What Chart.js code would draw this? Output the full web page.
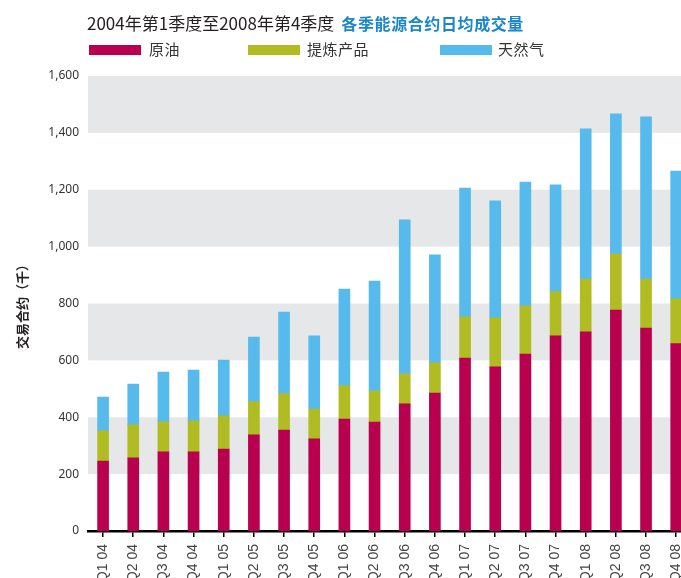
<!DOCTYPE html>
<html>
<head>
<meta charset="utf-8">
<script src="https://cdn.jsdelivr.net/npm/chart.js@4.4.0/dist/chart.umd.min.js"></script>
<style>
  body { margin: 0; background: #fff; }
  #wrap { position: relative; width: 681px; height: 578px; overflow: hidden; }
  #chart { position: absolute; left: 0; top: 0; }
  .txt { position: absolute; font-family: "Noto Sans CJK SC", "Noto Sans", sans-serif; color: #231f20; white-space: nowrap; line-height: 1; }
  #title { left: 87px; top: 14px; font-size: 17px; }
  #title b { color: #1a87c9; font-weight: bold; font-size: 16px; margin-left: 7px; letter-spacing: 0.6px; }
  .key { position: absolute; top: 45px; width: 52px; height: 10px; }
  .lab { top: 41px; font-size: 15px; letter-spacing: 0.5px; color: #333; }
</style>
</head>
<body>
<div id="wrap">
  <canvas id="chart" width="700" height="600"></canvas>
  <div class="txt" id="title">2004年第1季度至2008年第4季度<b>各季能源合约日均成交量</b></div>
  <div class="key" style="left:89px;background:#b8004e"></div>
  <div class="txt lab" style="left:149px">原油</div>
  <div class="key" style="left:248px;background:#b0bc22"></div>
  <div class="txt lab" style="left:307px">提炼产品</div>
  <div class="key" style="left:440px;background:#56bbec"></div>
  <div class="txt lab" style="left:498px">天然气</div>
</div>
<script>
// quarters and daily average volume (thousand contracts)
var quarters = ['Q1 04', 'Q2 04', 'Q3 04', 'Q4 04', 'Q1 05', 'Q2 05', 'Q3 05', 'Q4 05',
    'Q1 06', 'Q2 06', 'Q3 06', 'Q4 06', 'Q1 07', 'Q2 07', 'Q3 07', 'Q4 07',
    'Q1 08', 'Q2 08', 'Q3 08', 'Q4 08'];
var crudeOil = [246, 257, 278, 278, 288, 338, 355, 324, 394, 383, 447, 485, 608, 577, 622, 686, 700, 777, 714, 659];
var refinedProducts = [106, 116, 106, 109, 117, 117, 128, 105, 117, 110, 106, 106, 145, 173, 170, 156, 186, 198, 172, 157];
var naturalGas = [119, 144, 175, 179, 196, 227, 287, 257, 340, 386, 541, 380, 453, 411, 435, 375, 528, 492, 570, 450];
var seriesNames = ['原油', '提炼产品', '天然气'];
var shadedBands = [[200, 400], [600, 800], [1000, 1200], [1400, 1600]];

var fontFamily = '"Noto Sans", "Noto Sans CJK SC", sans-serif';

// grey bands behind the bars
var bandPlugin = {
    id: 'bands',
    beforeDatasetsDraw: function (chart) {
        var ctx = chart.ctx;
        var area = chart.chartArea;
        var y = chart.scales.y;
        ctx.save();
        ctx.fillStyle = '#e6e7e8';
        shadedBands.forEach(function (b) {
            var top = y.getPixelForValue(b[1]);
            var bottom = y.getPixelForValue(b[0]);
            ctx.fillRect(area.left, top, area.right - area.left, bottom - top);
        });
        ctx.restore();
    }
};

new Chart(document.getElementById('chart').getContext('2d'), {
    type: 'bar',
    data: {
        labels: quarters,
        datasets: [
            { label: seriesNames[0], data: crudeOil, backgroundColor: '#b8004e' },
            { label: seriesNames[1], data: refinedProducts, backgroundColor: '#b0bc22' },
            { label: seriesNames[2], data: naturalGas, backgroundColor: '#56bbec' }
        ]
    },
    options: {
        responsive: false,
        animation: false,
        devicePixelRatio: 1,
        barThickness: 11,
        layout: { padding: { top: 76, left: 14, right: 0, bottom: 0 } },
        plugins: { legend: { display: false }, tooltip: { enabled: false } },
        scales: {
            x: {
                stacked: true,
                grid: { drawOnChartArea: false, offset: false, color: '#000', tickLength: 6, lineWidth: 1.5 },
                border: { color: '#000', width: 2.5 },
                ticks: { color: '#444', font: { family: '"Liberation Sans", Arial, sans-serif', size: 14 }, minRotation: 90, maxRotation: 90, padding: 7 },
                afterFit: function (scale) { scale.height = 69; }
            },
            y: {
                stacked: true,
                min: 0,
                max: 1600,
                grid: { display: false, drawTicks: false },
                border: { display: false },
                ticks: { stepSize: 200, color: '#333', padding: 9, font: { family: fontFamily, size: 12 } },
                title: { display: true, text: '交易合约（千）', color: '#231f20', font: { family: '"Noto Sans CJK SC", sans-serif', size: 13, weight: 'bold' }, padding: { top: 0, bottom: 0 } },
                afterFit: function (scale) { scale.width = 74; }
            }
        }
    },
    plugins: [bandPlugin]
});
</script>
</body>
</html>
